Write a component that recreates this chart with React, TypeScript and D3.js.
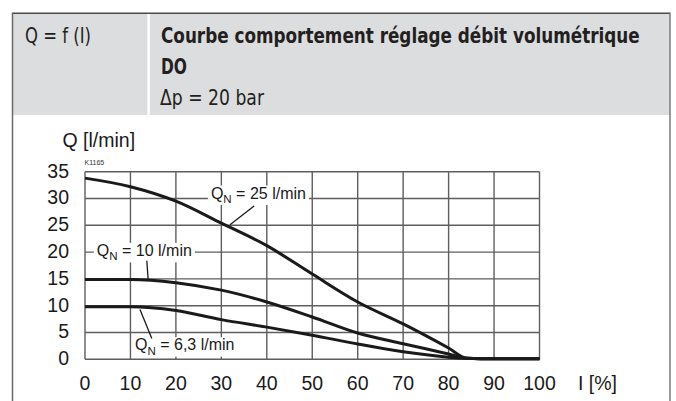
import React, { useEffect, useRef } from "react";
import * as d3 from "d3";

const W = 676;
const H = 401;

// I [%] positions along the curves
const current = [0, 10, 20, 30, 40, 50, 60, 70, 80, 84, 90, 100];
// Q [l/min] for each nominal flow
const q25 = [33.8, 32.2, 29.5, 25.4, 21.2, 15.9, 10.7, 6.6, 2.1, 0.2, 0.1, 0.1];
const q10 = [14.9, 14.9, 14.3, 12.9, 10.7, 7.9, 4.9, 2.9, 1.0, 0.2, 0.1, 0.1];
const q63 = [9.8, 9.8, 9.1, 7.4, 6.0, 4.5, 2.85, 1.4, 0.4, 0.2, 0.1, 0.1];

const xTicks = [0, 10, 20, 30, 40, 50, 60, 70, 80, 90, 100];
const yTicks = [0, 5, 10, 15, 20, 25, 30, 35];

// curve labels: text anchor and leader line, in data units
const labels = [
  { rest: " = 25 l/min", at: [27.7, 30.0], leader: [[37.2, 28.6], [31.9, 25.1]] },
  { rest: " = 10 l/min", at: [2.6, 19.3], leader: [[13.6, 18.4], [13.9, 14.8]] },
  { rest: " = 6,3 l/min", at: [11.0, 1.7], leader: [[12.1, 9.3], [14.7, 3.9]] },
];

// header texts: [text, x, baseline, target width, bold]
const headerTexts: [string, number, number, number, boolean][] = [
  ["Q = f (I)", 25, 42.5, 66, false],
  ["Courbe comportement réglage débit volumétrique", 161, 42.5, 479, true],
  ["DO", 161, 74, 26, true],
  ["Δp = 20 bar", 160, 105, 104, false],
];

const cond = "'Liberation Sans Narrow', 'DejaVu Sans Condensed', 'Roboto Condensed', 'Liberation Sans', sans-serif";
const arial = "'Liberation Sans', Arial, sans-serif";

export default function App() {
  const ref = useRef<SVGSVGElement | null>(null);

  useEffect(() => {
    if (!ref.current) return;
    const svg = d3.select(ref.current);
    svg.selectAll("*").remove();

    // header band
    svg.append("rect").attr("x", 12.5).attr("y", 13.3).attr("width", 670 - 12.5).attr("height", 115 - 13.3).attr("fill", "#dcdddf");
    svg.append("line").attr("x1", 148.6).attr("x2", 148.6).attr("y1", 13.3).attr("y2", 115).attr("stroke", "#fff").attr("stroke-width", 2.5);
    svg.append("line").attr("x1", 12.5).attr("x2", 670).attr("y1", 13.3).attr("y2", 13.3).attr("stroke", "#4a4a4a").attr("stroke-width", 1.5);
    svg.append("line").attr("x1", 12.5).attr("x2", 12.5).attr("y1", 12.6).attr("y2", H).attr("stroke", "#6a6a6a").attr("stroke-width", 1.5);
    svg.append("line").attr("x1", 670).attr("x2", 670).attr("y1", 12.6).attr("y2", H).attr("stroke", "#7a7a7a").attr("stroke-width", 1.5);

    // header texts, squeezed horizontally to the condensed width of the original
    const head = svg.append("g").attr("fill", "#231f20").attr("font-family", cond).attr("font-size", 22);
    headerTexts.forEach(([s, hx, hy, w, bold]) => {
      const t = head.append("text").attr("font-weight", bold ? "bold" : "normal").text(s);
      const natural = (t.node() as SVGTextElement).getComputedTextLength() || w;
      t.attr("transform", `translate(${hx},${hy}) scale(${w / natural},1)`);
    });

    const x = d3.scaleLinear().domain([0, 100]).range([85, 539.5]);
    const y = d3.scaleLinear().domain([0, 35]).range([359.3, 171.7]);

    const grid = svg.append("g").attr("stroke", "#5e5e5e").attr("stroke-width", 1.4);
    grid.selectAll("line.v").data(xTicks).enter().append("line").attr("class", "v")
      .attr("x1", (d) => x(d)).attr("x2", (d) => x(d)).attr("y1", y(35)).attr("y2", y(0));
    grid.selectAll("line.h").data(yTicks).enter().append("line").attr("class", "h")
      .attr("x1", x(0)).attr("x2", x(100)).attr("y1", (d) => y(d)).attr("y2", (d) => y(d));

    const ticks = svg.append("g").attr("font-family", arial).attr("font-size", 19.5).attr("fill", "#1a1a1a");
    ticks.selectAll("text.x").data(xTicks).enter().append("text").attr("class", "x")
      .attr("x", (d) => x(d)).attr("y", 389.5).attr("text-anchor", "middle").text((d) => String(d));
    ticks.selectAll("text.y").data(yTicks).enter().append("text").attr("class", "y")
      .attr("x", 69).attr("y", (d) => y(d)).attr("dy", "0.3em").attr("text-anchor", "end").text((d) => String(d));
    ticks.append("text").attr("x", 578).attr("y", 389.5).text("I [%]");
    ticks.append("text").attr("x", 62.5).attr("y", 147.3).text("Q [l/min]");
    svg.append("text").attr("x", 84.5).attr("y", 165).attr("font-family", arial).attr("font-size", 7).attr("fill", "#333").text("K1165");

    // curve labels with white backdrop
    const lab = svg.append("g");
    labels.forEach((l) => {
      const g = lab.append("g");
      const t = g.append("text").attr("x", x(l.at[0])).attr("y", y(l.at[1]))
        .attr("font-family", arial).attr("font-size", 16).attr("fill", "#1a1a1a");
      t.append("tspan").text("Q");
      t.append("tspan").attr("font-size", 11.5).attr("dy", 4.5).text("N");
      t.append("tspan").attr("dy", -4.5).text(l.rest);
      const b = (t.node() as SVGTextElement).getBBox();
      g.insert("rect", "text").attr("x", b.x - 3).attr("y", b.y + 1).attr("width", b.width + 6).attr("height", b.height - 1).attr("fill", "#fff");
      lab.append("line")
        .attr("x1", x(l.leader[0][0])).attr("y1", y(l.leader[0][1]))
        .attr("x2", x(l.leader[1][0])).attr("y2", y(l.leader[1][1]))
        .attr("stroke", "#1a1a1a").attr("stroke-width", 1.3);
    });

    const line = d3.line<number>().x((_, i) => x(current[i])).y((d) => y(d)).curve(d3.curveMonotoneX);
    svg.append("g").selectAll("path").data([q25, q10, q63]).enter().append("path")
      .attr("d", (d) => line(d)).attr("fill", "none").attr("stroke", "#1a1a1a").attr("stroke-width", 3);
  }, []);

  return <svg ref={ref} width={W} height={H} style={{ position: "absolute", left: 0, top: 0, background: "#fff" }} />;
}
